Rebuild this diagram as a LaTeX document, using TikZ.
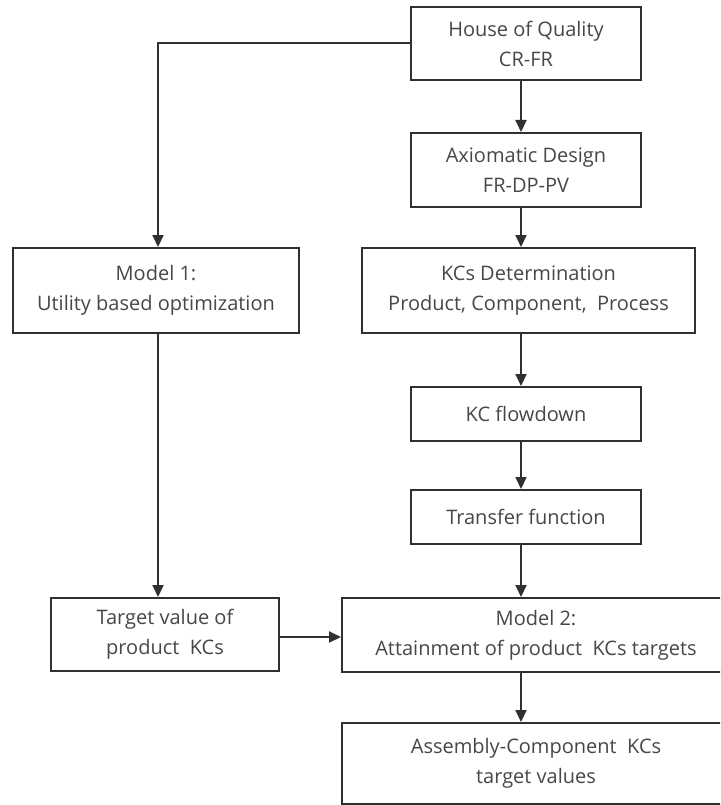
\documentclass[tikz,border=0pt]{standalone}
\usepackage{fontspec}
\setmainfont{Open Sans}
\usetikzlibrary{arrows.meta,calc}
\definecolor{txt}{HTML}{474747}
\definecolor{ln}{HTML}{303030}
\begin{document}
\begin{tikzpicture}[x=1pt,y=-1pt,
  box/.style={draw=ln,line width=2pt,fill=white,text=txt,align=center,
    font=\fontsize{20}{30}\selectfont,inner sep=0pt},
  arr/.style={draw=ln,line width=2pt,-{Triangle[width=11pt,length=12pt]}},
  conn/.style={draw=ln,line width=2pt}]
\useasboundingbox (0,0) rectangle (720,805);
\clip (0,0) rectangle (720,805);
\fill[white] (0,0) rectangle (720,805);
% boxes (centers and sizes from the reference)
\node[box,minimum width=230pt,minimum height=73pt] (hoq) at (526,43.5) {House of Quality\\CR-FR};
\node[box,minimum width=230pt,minimum height=74pt] (ad) at (526,170) {Axiomatic Design\\FR-DP-PV};
\node[box,minimum width=286pt,minimum height=85pt] (m1) at (156,290.5) {Model 1:\\Utility based optimization};
\node[box,minimum width=333pt,minimum height=85pt] (kcd) at (528.5,290.5) {KCs Determination\\Product, Component,\ \ Process};
\node[box,minimum width=230pt,minimum height=54pt] (kcf) at (526,414) {KC flowdown};
\node[box,minimum width=230pt,minimum height=54pt] (tf) at (526,517) {Transfer function};
\node[box,minimum width=228pt,minimum height=73pt] (tv) at (165,634.5) {Target value of\\product\ \ KCs};
\node[box,minimum width=388pt,minimum height=74pt] (m2) at (536,635) {Model 2:\\Attainment of product\ \ KCs targets};
\node[box,minimum width=388pt,minimum height=81pt] (asm) at (536,763.5) {Assembly-Component\ \ KCs\\target values};
% column coordinates for connectors
\coordinate (spine) at (521,0);
\coordinate (col) at (158,0);
% right column chain
\draw[arr] (hoq.south -| spine) -- (ad.north -| spine);
\draw[arr] (ad.south -| spine) -- (kcd.north -| spine);
\draw[arr] (kcd.south -| spine) -- (kcf.north -| spine);
\draw[arr] (kcf.south -| spine) -- (tf.north -| spine);
\draw[arr] (tf.south -| spine) -- (m2.north -| spine);
\draw[arr] (m2.south -| spine) -- (asm.north -| spine);
% left branch
\draw[arr] (hoq.west) -- (hoq.west -| col) -- (m1.north -| col);
\draw[arr] (m1.south -| col) -- (tv.north -| col);
\draw[arr] ($(tv.east)+(0,2.5)$) -- ($(tv.east -| m2.west)+(0,2.5)$);
\end{tikzpicture}
\end{document}
